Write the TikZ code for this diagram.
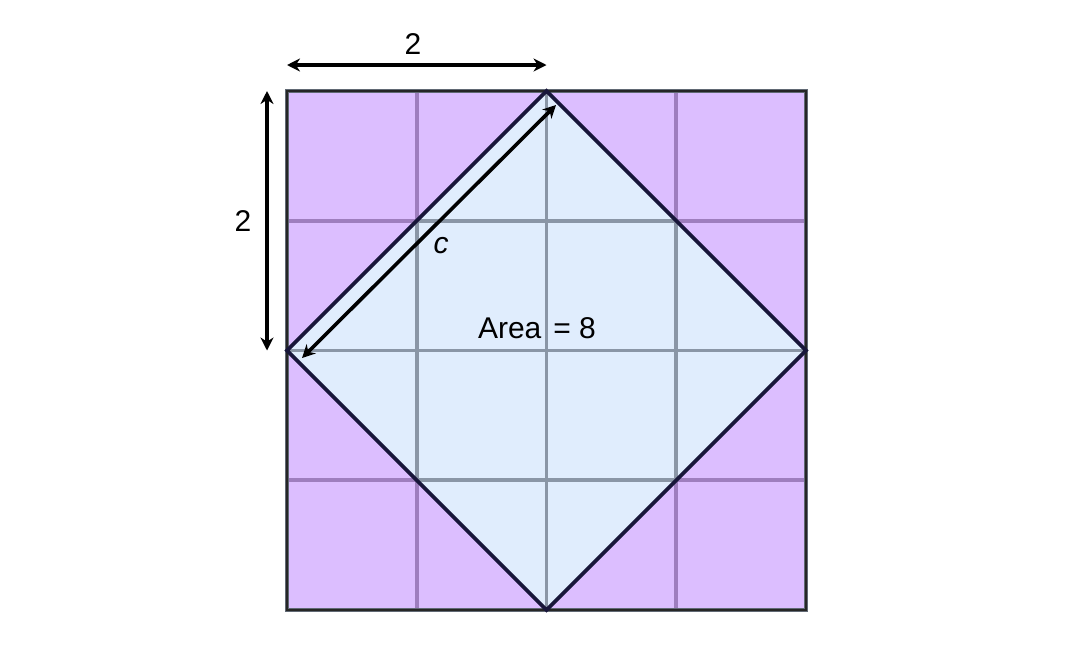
\documentclass[tikz,border=0pt]{standalone}
\usepackage{fontspec}
\setmainfont{Liberation Sans}
\usetikzlibrary{arrows.meta}
\definecolor{purp}{RGB}{220,190,255}
\definecolor{lblue}{RGB}{224,237,253}
\definecolor{gridp}{RGB}{158,126,190}
\definecolor{gridb}{RGB}{138,150,166}
\definecolor{navy}{RGB}{24,22,58}
\tikzset{
  dim/.style={line width=3.6pt,{Stealth[length=13pt,width=13pt]}-{Stealth[length=13pt,width=13pt]}},
  lbl/.style={font=\fontsize{30}{32}\selectfont, inner sep=0pt},
  gridline/.style={line width=3.6pt}
}
\begin{document}
\begin{tikzpicture}[x=1pt,y=-1pt]
\useasboundingbox (0,0) rectangle (1086,670);
% corners
\coordinate (TL) at (287,91);
\coordinate (BR) at (806,610);
\coordinate (T) at (546.5,91);
\coordinate (R) at (806,350.5);
\coordinate (B) at (546.5,610);
\coordinate (L) at (287,350.5);
% fills
\fill[purp] (TL) rectangle (BR);
\fill[lblue] (T) -- (R) -- (B) -- (L) -- cycle;
% grid in purple region
\begin{scope}
  \clip (TL) rectangle (BR);
  \foreach \i in {1,2,3} {
    \draw[gridline,gridp] (287+129.75*\i,91) -- (287+129.75*\i,610);
    \draw[gridline,gridp] (287,91+129.75*\i) -- (806,91+129.75*\i);
  }
\end{scope}
% grid in blue region
\begin{scope}
  \clip (T) -- (R) -- (B) -- (L) -- cycle;
  \foreach \i in {1,2,3} {
    \draw[gridline,gridb] (287+129.75*\i,91) -- (287+129.75*\i,610);
    \draw[gridline,gridb] (287,91+129.75*\i) -- (806,91+129.75*\i);
  }
\end{scope}
% outer border
\draw[line width=3.4pt,gridb!70!black] (TL) rectangle (BR);
\draw[line width=1.4pt,black!85] (TL) rectangle (BR);
% diamond
\draw[line width=3.6pt,navy,line join=miter] (T) -- (R) -- (B) -- (L) -- cycle;
% dimension arrows
\coordinate (ha) at (287,65);
\coordinate (hb) at (546.5,65);
\draw[dim] (ha) -- (hb);
\node[lbl] (h2) at (413,44) {2};
\coordinate (va) at (267,91);
\coordinate (vb) at (267,350.5);
\draw[dim] (va) -- (vb);
\node[lbl] (v2) at (243,221) {2};
\coordinate (da) at (302,358);
\coordinate (db) at (556,105);
\draw[dim] (da) -- (db);
\node[lbl] (c) at (441,246) {\itshape c};
\node[lbl] (area) at (537,328) {Area\hspace{12pt}= 8};
\end{tikzpicture}
\end{document}
